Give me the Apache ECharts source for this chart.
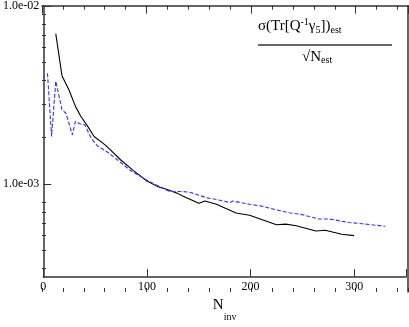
<!DOCTYPE html>
<html>
<head>
<meta charset="utf-8">
<script src="https://cdn.jsdelivr.net/npm/echarts@6/dist/echarts.min.js"></script>
<style>html,body{margin:0;padding:0;background:#fff}#c{width:409px;height:327px}</style>
</head>
<body>
<div id="c"></div>
<script>
// N_inv values and sigma estimates, black solid curve
const nBlack = [12, 18, 25, 31, 36, 43, 49, 59, 64, 75, 87, 100, 110, 121, 129, 135, 142, 150, 156, 167, 186, 199, 212, 225, 234, 244, 263, 272, 288, 300];
const sBlack = [7.0e-3, 4.06e-3, 3.35e-3, 2.73e-3, 2.41e-3, 2.1e-3, 1.85e-3, 1.67e-3, 1.57e-3, 1.36e-3, 1.19e-3, 1.04e-3, 9.7e-4, 9.26e-4, 8.89e-4, 8.53e-4, 8.19e-4, 7.8e-4, 8.02e-4, 7.7e-4, 6.88e-4, 6.68e-4, 6.28e-4, 5.9e-4, 5.95e-4, 5.83e-4, 5.45e-4, 5.5e-4, 5.22e-4, 5.13e-4];
// blue dashed curve
const nBlue = [4, 8, 12, 18, 22, 28, 31, 35, 40, 46, 52, 62, 72, 84, 100, 110, 122, 135, 142, 158, 167, 180, 183, 199, 212, 225, 237, 250, 266, 276, 295, 308, 330];
const sBlue = [4.19e-3, 1.85e-3, 3.78e-3, 2.62e-3, 2.49e-3, 1.89e-3, 2.25e-3, 2.18e-3, 2.15e-3, 1.82e-3, 1.64e-3, 1.51e-3, 1.36e-3, 1.19e-3, 1.05e-3, 9.8e-4, 9.07e-4, 9.07e-4, 8.97e-4, 8.36e-4, 8.19e-4, 7.87e-4, 8.02e-4, 7.7e-4, 7.49e-4, 7.16e-4, 6.9e-4, 6.73e-4, 6.36e-4, 6.36e-4, 6.08e-4, 5.98e-4, 5.79e-4];
// axis ranges and tick values
const xMin = 0, xMax = 350, xMajor = 100, xMinor = 20;
const yMin = 3e-4, yMax = 1e-2;
const yMinorTicks = [4e-4, 5e-4, 6e-4, 7e-4, 8e-4, 9e-4, 2e-3, 3e-3, 4e-3, 5e-3, 6e-3, 7e-3, 8e-3, 9e-3];

const serif = '"Liberation Serif", "DejaVu Serif", serif';
const axisColor = '#333';

function fmtY(v) {
  const e = Math.round(Math.log10(v));
  if (Math.abs(v - Math.pow(10, e)) / v > 1e-6) return '';
  return '1.0e' + (e < 0 ? '-' : '+') + String(Math.abs(e)).padStart(2, '0');
}
function fmtX(v) { return (v % 100 === 0) ? String(v) : ''; }

const chart = echarts.init(document.getElementById('c'), null, {renderer: 'canvas'});
const rect = {left: 42, right: 1, top: 5.7, bottom: 35};

function xAx(grid, pos, interval, len, showLabel, showLine, name) {
  return {
    gridIndex: grid, type: 'value', position: pos, min: xMin, max: xMax, interval: interval,
    name: name || '', nameLocation: 'middle', nameGap: 19,
    nameTextStyle: {fontFamily: serif, fontSize: 15, color: '#000', rich: {n: {fontFamily: serif, fontSize: 15, color: '#000'}, sub: {fontFamily: serif, fontSize: 10, color: '#000', verticalAlign: 'bottom', padding: [0, 0, -9, 0]}}},
    axisLine: {show: showLine, onZero: false, lineStyle: {color: axisColor, width: 1.5}},
    axisTick: {show: true, inside: true, length: len, lineStyle: {color: axisColor, width: 1}},
    axisLabel: {show: showLabel, formatter: fmtX, fontFamily: serif, fontSize: 12, color: '#000', margin: 4},
    splitLine: {show: false}
  };
}

const option = {
  animation: false,
  backgroundColor: '#fff',
  grid: [0, 1, 2, 3].map(() => Object.assign({}, rect)),
  xAxis: [
    xAx(0, 'bottom', xMajor, 8, true, true, '{n|N}{sub|inv}'),
    xAx(1, 'bottom', xMinor, 4, false, false),
    xAx(2, 'top', xMajor, 8, false, true),
    xAx(3, 'top', xMinor, 4, false, false)
  ],
  yAxis: [
    {
      gridIndex: 0, type: 'log', logBase: 10, min: yMin, max: yMax, position: 'left',
      axisLine: {show: true, onZero: false, lineStyle: {color: axisColor, width: 1.5}},
      axisTick: {show: true, inside: true, length: 8, lineStyle: {color: axisColor, width: 1}},
      axisLabel: {formatter: fmtY, fontFamily: serif, fontSize: 12, color: '#000', margin: 4, showMinLabel: false},
      splitLine: {show: false}
    },
    {
      // minor ticks of the log axis, placed on a companion axis in log10 space
      gridIndex: 1, type: 'value', min: Math.log10(yMin), max: Math.log10(yMax), position: 'left',
      axisLine: {show: false},
      axisTick: {show: true, inside: true, length: 4, customValues: yMinorTicks.map(v => Math.log10(v)), lineStyle: {color: axisColor, width: 1}},
      axisLabel: {show: false},
      splitLine: {show: false}
    },
    {
      gridIndex: 2, type: 'log', logBase: 10, min: yMin, max: yMax, position: 'right',
      axisLine: {show: true, onZero: false, lineStyle: {color: axisColor, width: 1.5}},
      axisTick: {show: false}, axisLabel: {show: false}, splitLine: {show: false}
    },
    {
      gridIndex: 3, type: 'log', logBase: 10, min: yMin, max: yMax, position: 'left',
      axisLine: {show: false}, axisTick: {show: false}, axisLabel: {show: false}, splitLine: {show: false}
    }
  ],
  series: [
    {
      type: 'line', xAxisIndex: 0, yAxisIndex: 0, showSymbol: false, symbol: 'none',
      data: nBlack.map((n, i) => [n, sBlack[i]]),
      lineStyle: {color: '#000', width: 1.1}
    },
    {
      type: 'line', xAxisIndex: 0, yAxisIndex: 0, showSymbol: false, symbol: 'none',
      data: nBlue.map((n, i) => [n, sBlue[i]]),
      lineStyle: {color: '#3333ff', width: 1.1, type: [4, 2]}
    }
  ],
  graphic: [
    {
      type: 'text', left: 258, top: 17,
      style: {
        text: '{t|σ(Tr[Q}{sup|-1}{t|γ}{sub|5}{t|])}{sub|est}',
        rich: {
          t: {fontFamily: serif, fontSize: 15, fill: '#000'},
          sup: {fontFamily: serif, fontSize: 10, fill: '#000', verticalAlign: 'top', padding: [0, 0, 8, 0]},
          sub: {fontFamily: serif, fontSize: 10, fill: '#000', verticalAlign: 'bottom', padding: [6, 0, 0, 0]}
        }
      }
    },
    {
      type: 'line', shape: {x1: 258, y1: 45, x2: 392, y2: 45},
      style: {stroke: '#333', lineWidth: 1.5}
    },
    {
      type: 'text', left: 302, top: 50,
      style: {
        text: '{t|√N}{sub|est}',
        rich: {
          t: {fontFamily: serif, fontSize: 15, fill: '#000'},
          sub: {fontFamily: serif, fontSize: 10, fill: '#000', verticalAlign: 'bottom', padding: [6, 0, 0, 0]}
        }
      }
    }
  ]
};
chart.setOption(option);
</script>
</body>
</html>
